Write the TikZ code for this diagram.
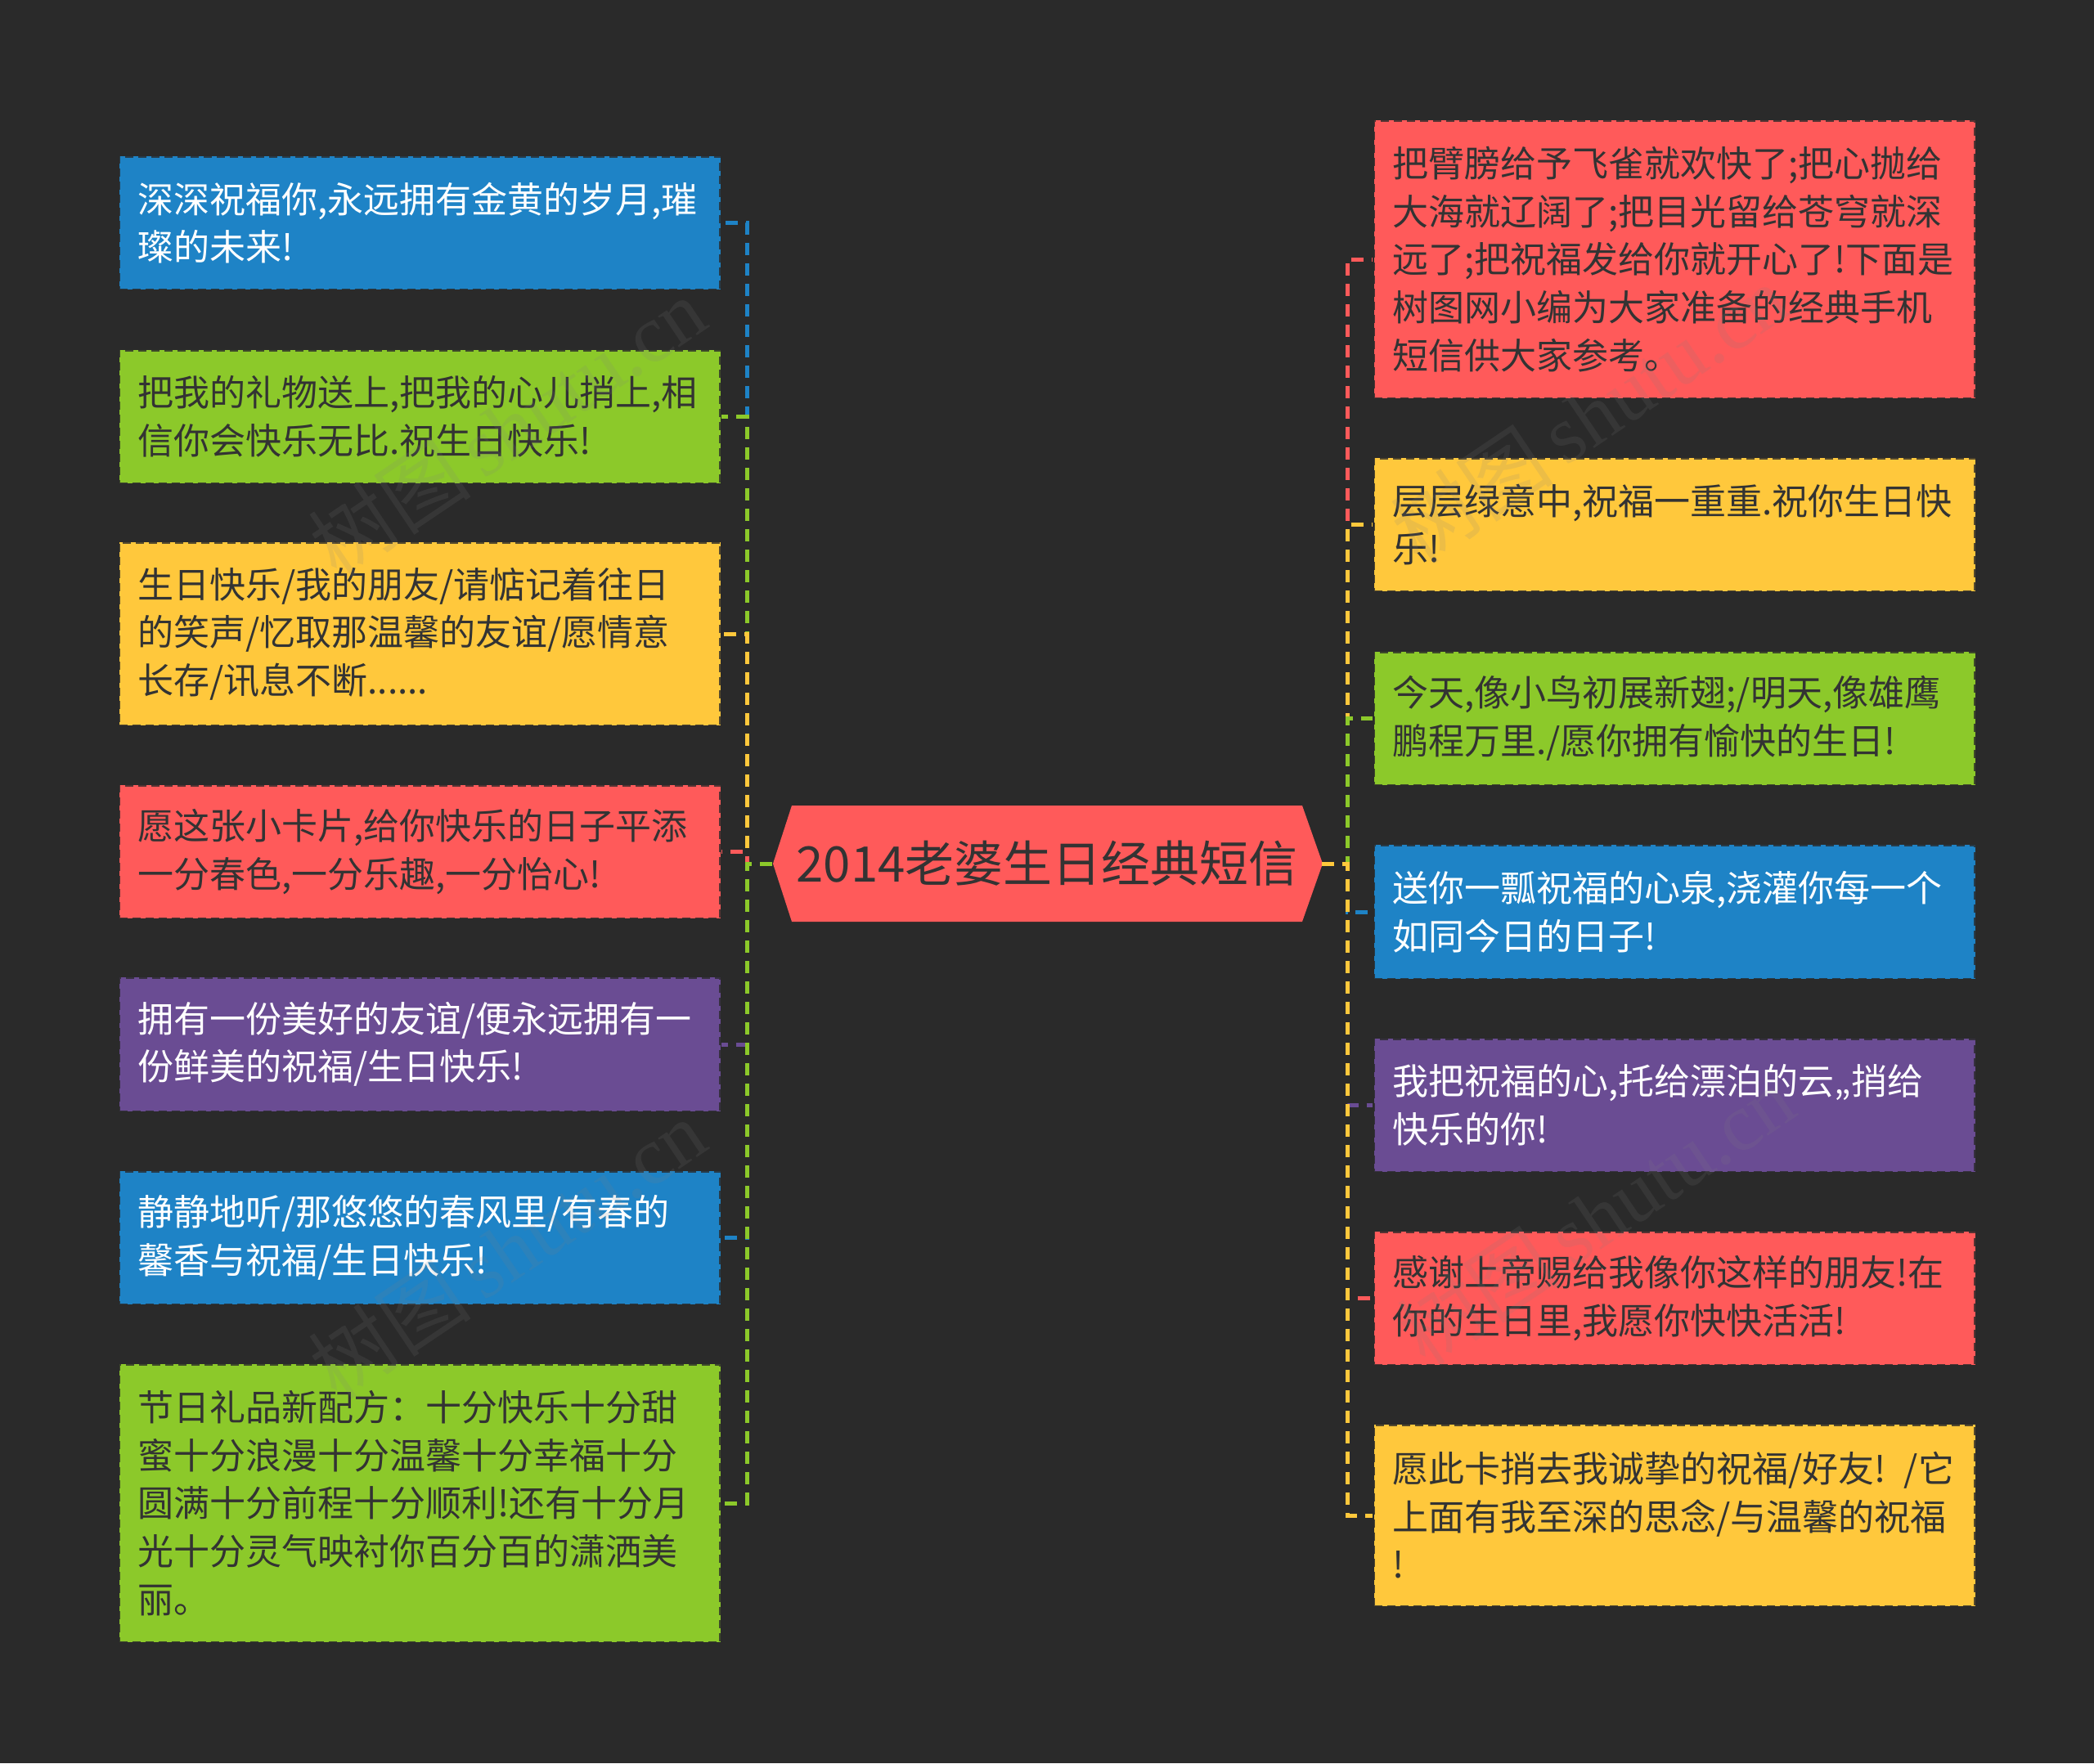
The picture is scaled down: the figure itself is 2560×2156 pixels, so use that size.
\documentclass[tikz,border=0pt]{standalone}
\usepackage{fontspec}
\setmainfont{Noto Sans CJK SC}
\newfontfamily\wmfont{Liberation Serif}
\definecolor{bgc}{HTML}{2A2A2A}
\definecolor{cblue}{HTML}{1E83C6}
\definecolor{cgreen}{HTML}{8CC92A}
\definecolor{cyellow}{HTML}{FFC83C}
\definecolor{cred}{HTML}{FF5A5A}
\definecolor{cpurple}{HTML}{6A4C93}
\definecolor{ctext}{HTML}{333333}
\tikzset{
  mbox/.style={rectangle, inner xsep=23pt, inner ysep=0pt, text width=689pt, align=left,
    font=\fontsize{44}{58.6}\selectfont, draw=bgc, draw opacity=0.8, line width=3pt,
    dash pattern=on 10pt off 6pt},
  lbox/.style={mbox, anchor=east},
  rbox/.style={mbox, anchor=west},
  conn/.style={line width=5pt, dash pattern=on 15pt off 10pt},
  wm/.style={text=gray, opacity=0.15, rotate=34, font=\fontsize{100}{110}\selectfont}
}
\begin{document}
\begin{tikzpicture}[x=1pt,y=-1pt]
\fill[bgc] (0,0) rectangle (2560,2156);
\useasboundingbox (0,0) rectangle (2560,2156);

% central topic
\path[fill=cred] (945,1056) -- (968,985) -- (1592,985) -- (1617,1056) -- (1592,1127) -- (968,1127) -- cycle;
\node (C) at (1280,1056) [minimum width=672pt, minimum height=142pt, inner sep=0pt,
  text=ctext, font=\fontsize{60}{70}\selectfont] {2014老婆生日经典短信};

\coordinate (SL) at (913,1056);
\coordinate (SR) at (1647,1056);

% left boxes
\node[lbox, fill=cblue, text=white, minimum height=163pt] (L1) at (882,272.5)
  {深深祝福你,永远拥有金黄的岁月,璀\\璨的未来!};
\node[lbox, fill=cgreen, text=ctext, minimum height=163pt] (L2) at (882,509.5)
  {把我的礼物送上,把我的心儿捎上,相\\信你会快乐无比.祝生日快乐!};
\node[lbox, fill=cyellow, text=ctext, minimum height=224pt] (L3) at (882,775)
  {生日快乐/我的朋友/请惦记着往日\\的笑声/忆取那温馨的友谊/愿情意\\长存/讯息不断......};
\node[lbox, fill=cred, text=ctext, minimum height=163pt] (L4) at (882,1041.5)
  {愿这张小卡片,给你快乐的日子平添\\一分春色,一分乐趣,一分怡心!};
\node[lbox, fill=cpurple, text=white, minimum height=164pt] (L5) at (882,1277)
  {拥有一份美好的友谊/便永远拥有一\\份鲜美的祝福/生日快乐!};
\node[lbox, fill=cblue, text=white, minimum height=163pt] (L6) at (882,1513.5)
  {静静地听/那悠悠的春风里/有春的\\馨香与祝福/生日快乐!};
\node[lbox, fill=cgreen, text=ctext, minimum height=340pt] (L7) at (882,1838)
  {节日礼品新配方：十分快乐十分甜\\蜜十分浪漫十分温馨十分幸福十分\\圆满十分前程十分顺利!还有十分月\\光十分灵气映衬你百分百的潇洒美\\丽。};

% right boxes
\node[rbox, fill=cred, text=ctext, minimum height=340pt] (R1) at (1678,317)
  {把臂膀给予飞雀就欢快了;把心抛给\\大海就辽阔了;把目光留给苍穹就深\\远了;把祝福发给你就开心了!下面是\\树图网小编为大家准备的经典手机\\短信供大家参考。};
\node[rbox, fill=cyellow, text=ctext, minimum height=163pt] (R2) at (1678,641.5)
  {层层绿意中,祝福一重重.祝你生日快\\乐!};
\node[rbox, fill=cgreen, text=ctext, minimum height=163pt] (R3) at (1678,878.5)
  {今天,像小鸟初展新翅;/明天,像雄鹰\\鹏程万里./愿你拥有愉快的生日!};
\node[rbox, fill=cblue, text=white, minimum height=164pt] (R4) at (1678,1115)
  {送你一瓢祝福的心泉,浇灌你每一个\\如同今日的日子!};
\node[rbox, fill=cpurple, text=white, minimum height=163pt] (R5) at (1678,1351.5)
  {我把祝福的心,托给漂泊的云,,捎给\\快乐的你!};
\node[rbox, fill=cred, text=ctext, minimum height=163pt] (R6) at (1678,1587.5)
  {感谢上帝赐给我像你这样的朋友!在\\你的生日里,我愿你快快活活!};
\node[rbox, fill=cyellow, text=ctext, minimum height=222pt] (R7) at (1678,1853)
  {愿此卡捎去我诚挚的祝福/好友! /它\\上面有我至深的思念/与温馨的祝福\\!};

% connectors (drawn from the centre so dashes line up; later ones on top)
\draw[conn, cblue]   (C.west) -- (SL) |- (L1.east);
\draw[conn, cgreen]  (C.west) -- (SL) |- (L2.east);
\draw[conn, cyellow] (C.west) -- (SL) |- (L3.east);
\draw[conn, cred]    (C.west) -- (SL) |- (L4.east);
\draw[conn, cpurple] (C.west) -- (SL) |- (L5.east);
\draw[conn, cblue]   (C.west) -- (SL) |- (L6.east);
\draw[conn, cgreen]  (C.west) -- (SL) |- (L7.east);

\draw[conn, cred]    (C.east) -- (SR) |- (R1.west);
\draw[conn, cyellow] (C.east) -- (SR) |- (R2.west);
\draw[conn, cgreen]  (C.east) -- (SR) |- (R3.west);
\draw[conn, cblue]   (C.east) -- (SR) |- (R4.west);
\draw[conn, cpurple] (C.east) -- (SR) |- (R5.west);
\draw[conn, cred]    (C.east) -- (SR) |- (R6.west);
\draw[conn, cyellow] (C.east) -- (SR) |- (R7.west);

% watermarks
\node[wm] (W1) at (620,522) {树图\,{\wmfont shutu.cn}};
\node[wm] (W2) at (620,1527) {树图\,{\wmfont shutu.cn}};
\node[wm] (W3) at (1943,506) {树图\,{\wmfont shutu.cn}};
\node[wm] (W4) at (1951,1486) {树图\,{\wmfont shutu.cn}};
\end{tikzpicture}
\end{document}
